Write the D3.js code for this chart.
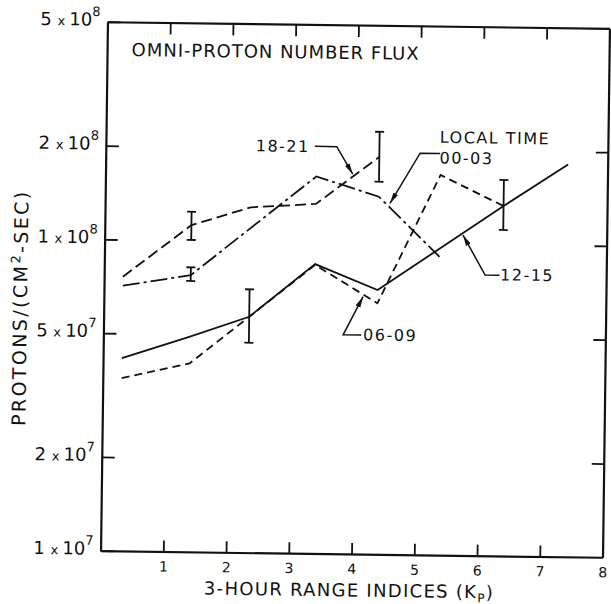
<!DOCTYPE html>
<html><head><meta charset="utf-8">
<script src="https://cdn.jsdelivr.net/npm/d3@7"></script>
<style>
body{margin:0;background:#fff}
text{font-family:"DejaVu Sans",sans-serif;fill:#111}
</style>
</head><body>
<svg id="chart" width="611" height="604"></svg>
<script>
// ---- data ----
const kp = [0.3, 1.38, 2.32, 3.36, 4.36, 5.34, 6.35, 7.37];
const flux1821 = [7.60e7, 1.12e8, 1.285e8, 1.326e8, 1.89e8];               // LT 18-21
const flux0003 = [7.11e7, 7.74e7, null, 1.625e8, 1.408e8, 9.08e7];           // LT 00-03
const flux1215 = [4.16e7, 4.91e7, 5.72e7, 8.50e7, 7.06e7, null, 1.33e8, 1.82e8]; // LT 12-15
const flux0609 = [3.59e7, 4.03e7, 5.72e7, 8.45e7, 6.40e7, 1.662e8, 1.33e8];  // LT 06-09

const errKp   = [1.38, 4.36, 1.38, 2.32, 6.35];
const errLow  = [1.004e8, 1.572e8, 7.41e7, 4.72e7, 1.114e8];
const errHigh = [1.237e8, 2.275e8, 8.20e7, 7.01e7, 1.612e8];

const xTicks = [1, 2, 3, 4, 5, 6, 7, 8];
const xTopTicks = [1, 2, 3, 4, 5, 6, 7];
const yTickLabels = [1e7, 2e7, 5e7, 1e8, 2e8, 5e8];
const yRightTicks = [2e7, 5e7, 1e8, 2e8];

const title = "OMNI-PROTON NUMBER FLUX";
const xTitle = "3-HOUR RANGE INDICES (K";
const xTitleSub = "P";
const yTitleA = "PROTONS/(CM", yTitleSup = "2", yTitleB = "-SEC)";

// annotation labels and leaders (data coordinates)
const annLabels = ["18-21", "LOCAL TIME", "00-03", "12-15", "06-09"];
const annAnchor = ["end", "start", "start", "start", "start"];
const annPos = [[3.25, 2.03e8], [5.32, 2.2e8], [5.32, 1.89e8], [6.31, 8.0e7], [4.14, 5.07e7]];
const leaders = [
  [[3.33, 2.03e8], [3.68, 2.03e8], [3.94, 1.66e8]],
  [[5.33, 1.95e8], [5.01, 1.95e8], [4.54, 1.342e8]],
  [[6.30, 7.97e7], [6.07, 7.97e7], [5.71, 1.069e8]],
  [[4.11, 5.05e7], [3.82, 5.05e7], [4.13, 6.71e7]]
];

// ---- drawing ----
const svg = d3.select("#chart");
const L = 104, R = 606, T = 25, B = 554;
const x = d3.scaleLinear([0, 8], [L, R]);
const y = d3.scaleLog([1e7, 5e8], [B, T]);
const ink = "#111";

svg.append("defs").append("marker")
  .attr("id", "arr").attr("markerUnits", "userSpaceOnUse")
  .attr("viewBox", "0 -3 11 6").attr("refX", 11).attr("refY", 0)
  .attr("markerWidth", 11).attr("markerHeight", 6).attr("orient", "auto")
  .append("path").attr("d", "M0,-2.6L11,0L0,2.6Z").attr("fill", ink);

const g = svg.append("g").attr("transform", "rotate(0.75,355,289)");

function styleAxis(sel) {
  sel.selectAll("path.domain").attr("stroke", ink).attr("stroke-width", 2.2);
  sel.selectAll(".tick line").attr("stroke", ink).attr("stroke-width", 1.8);
}

// bottom
const gb = g.append("g").attr("transform", `translate(0,${B})`)
  .call(d3.axisBottom(x).tickValues(xTicks).tickSizeInner(-11).tickSizeOuter(0).tickPadding(10).tickFormat(d3.format("d")));
gb.selectAll("text").attr("font-size", 14).attr("fill", ink).attr("font-family", "DejaVu Sans");
styleAxis(gb);
// top
const gt = g.append("g").attr("transform", `translate(0,${T})`)
  .call(d3.axisTop(x).tickValues(xTopTicks).tickSizeInner(-12).tickSizeOuter(0).tickFormat(""));
styleAxis(gt);
// right
const gr = g.append("g").attr("transform", `translate(${R},0)`)
  .call(d3.axisRight(y).tickValues(yRightTicks).tickSizeInner(-12).tickSizeOuter(0).tickFormat(""));
styleAxis(gr);
// left
const gl = g.append("g").attr("transform", `translate(${L},0)`)
  .call(d3.axisLeft(y).tickValues(yTickLabels).tickSizeInner(-13).tickSizeOuter(0).tickPadding(7).tickFormat(""));
styleAxis(gl);
gl.selectAll(".tick text").attr("font-family", "DejaVu Sans").attr("fill", ink).attr("dy", "0.36em")
  .each(function(d) {
    const e = Math.floor(Math.log10(d) + 1e-9);
    const m = Math.round(d / Math.pow(10, e));
    const t = d3.select(this);
    t.append("tspan").attr("font-size", 18).text(m + " ");
    t.append("tspan").attr("font-size", 13).text("x ");
    t.append("tspan").attr("font-size", 18).text("10");
    t.append("tspan").attr("font-size", 13).attr("dy", "-0.75em").text(e);
  });

// data lines
const line = d3.line().x(d => x(d[0])).y(d => y(d[1]));
function series(vals) {
  return vals.map((v, i) => [kp[i], v]).filter(d => d[1] != null);
}
const seriesDefs = [
  {vals: flux1821, dash: "11,5"},
  {vals: flux0003, dash: "17,4,3,4"},
  {vals: flux1215, dash: null},
  {vals: flux0609, dash: "8,5"}
];
seriesDefs.forEach(s => {
  g.append("path").datum(series(s.vals)).attr("d", line)
    .attr("fill", "none").attr("stroke", ink).attr("stroke-width", 1.8)
    .attr("stroke-dasharray", s.dash);
});

// error bars
errKp.forEach((k, i) => {
  const eg = g.append("g").attr("stroke", ink).attr("stroke-width", 1.8);
  eg.append("line").attr("x1", x(k)).attr("x2", x(k)).attr("y1", y(errLow[i])).attr("y2", y(errHigh[i]));
  [errLow[i], errHigh[i]].forEach(v => {
    eg.append("line").attr("x1", x(k) - 4.5).attr("x2", x(k) + 4.5).attr("y1", y(v)).attr("y2", y(v));
  });
});

// leaders
const leadLine = d3.line().x(d => x(d[0])).y(d => y(d[1]));
leaders.forEach(p => {
  g.append("path").datum(p).attr("d", leadLine).attr("fill", "none")
    .attr("stroke", ink).attr("stroke-width", 1.5).attr("marker-end", "url(#arr)");
});
annLabels.forEach((t, i) => {
  g.append("text").attr("x", x(annPos[i][0])).attr("y", y(annPos[i][1]))
    .attr("dy", "0.36em").attr("text-anchor", annAnchor[i])
    .attr("font-size", 16).attr("letter-spacing", 1.5).text(t);
});

// title
g.append("text").attr("x", 128.6).attr("y", 52.5).attr("dy", "0.36em")
  .attr("font-size", 18).attr("textLength", 287).attr("lengthAdjust", "spacing").text(title);

// x axis title
const xt = g.append("text").attr("x", (L + R) / 2 - 2).attr("y", 590).attr("dy", "0.36em")
  .attr("text-anchor", "middle").attr("font-size", 18).attr("letter-spacing", 1.3);
xt.append("tspan").text(xTitle);
xt.append("tspan").attr("font-size", 12).attr("dy", "0.35em").text(xTitleSub);
xt.append("tspan").attr("dy", "-0.22em").text(")");

// y axis title
const yt = g.append("text").attr("transform", "translate(20.3,312) rotate(-90)")
  .attr("text-anchor", "middle").attr("dy", "0.36em").attr("font-size", 19).attr("letter-spacing", 2.4);
yt.append("tspan").text(yTitleA);
yt.append("tspan").attr("font-size", 13).attr("dy", "-0.55em").text(yTitleSup);
yt.append("tspan").attr("dy", "0.38em").text(yTitleB);
</script>
</body></html>
